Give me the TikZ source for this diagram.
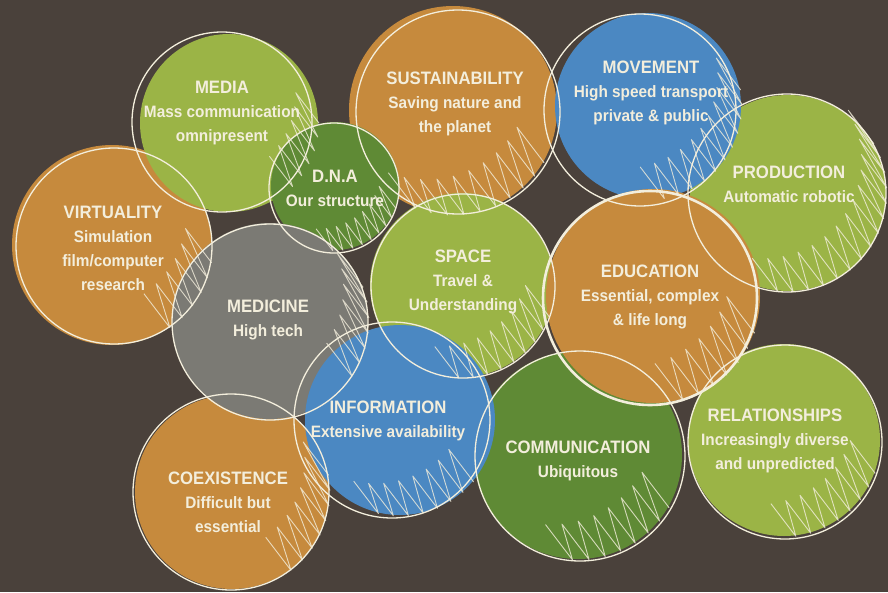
\documentclass[tikz,border=0pt]{standalone}
\usepackage{fontspec}
\setmainfont[FakeStretch=0.93]{Liberation Sans}
\usepackage{tikz}
\usetikzlibrary{positioning}

\definecolor{bgbrown}{HTML}{4A413B}
\definecolor{ochre}{HTML}{C68A3D}
\definecolor{lime}{HTML}{9BB446}
\definecolor{forest}{HTML}{5F8A35}
\definecolor{sky}{HTML}{4B88C2}
\definecolor{stone}{HTML}{7B7A74}
\definecolor{cream}{HTML}{F3EEDC}

\newcommand{\head}[1]{{\fontsize{18}{24}\selectfont #1}}
% zigzag scribble: centre x, centre y, radius, from angle, to angle
\newcommand{\hatchArc}[5]{%
  \pgfmathtruncatemacro\hnext{#4+9}%
  \draw[hatch, shift={(#1,#2)}] (#4:#3)
    \foreach \a in {#4,\hnext,...,#5} { -- (\a:1.01*#3) -- ++(-0.26*#3,-0.34*#3) };
}

\begin{document}
\begin{tikzpicture}[x=1pt, y=-1pt,
    disc/.style={circle, inner sep=0pt, minimum size={2*#1pt}},
    rim/.style={draw=cream, line width=1.3pt},
    hatch/.style={cream, line width=0.9pt, line join=round, opacity=0.8},
    blurb/.style={text=cream, align=center, font=\bfseries\fontsize{16.5}{24}\selectfont}
]

% Background
\fill[bgbrown] (0,0) rectangle (888,592);
\useasboundingbox (0,0) rectangle (888,592);

% Discs
\node[disc=104, fill=ochre] (sust) at (453,110) {};
\node[disc=100, fill=ochre] (virt) at (112,245) {};
\node[disc=89, fill=lime] (media) at (229,123) {};
\node[disc=64, fill=forest] (dna) at (335,186) {};
\node[disc=98, fill=lime] (prod) at (788,193) {};
\node[disc=93, fill=sky] (move) at (648,106) {};
\node[disc=92, fill=lime] (space) at (462,285) {};
\node[disc=104, fill=forest] (comm) at (578,455) {};
\node[disc=96, fill=lime] (rel) at (784,440) {};
\node[disc=107, fill=ochre] (edu) at (653,296) {};
\node[disc=97, fill=ochre] (coex) at (232,492) {};
\node[disc=98, fill=stone] (med) at (270,321) {};
\node[disc=95, fill=sky] (info) at (400,420) {};

% Sketched rims
\draw[rim] (458,112) circle (102);
\draw[rim] (114,246) circle (98);
\draw[rim] (222,122) circle (90);
\draw[rim] (334,188) circle (65);
\draw[rim] (787,193) circle (99);
\draw[rim] (640,110) circle (96);
\draw[rim] (463,286) circle (92);
\draw[rim] (580,456) circle (105);
\draw[rim] (785,442) circle (97);
\draw[rim, line width=2.6pt] (650,298) circle (107);
\draw[rim] (231,492) circle (98);
\draw[rim] (270,322) circle (98);
\draw[rim] (392,420) circle (98);

% Scribbles
\hatchArc{229}{123}{89}{0}{45}
\hatchArc{335}{186}{64}{20}{95}
\hatchArc{453}{110}{104}{30}{115}
\hatchArc{648}{106}{93}{-10}{80}
\hatchArc{788}{193}{98}{-30}{100}
\hatchArc{112}{245}{100}{10}{55}
\hatchArc{462}{285}{92}{20}{100}
\hatchArc{653}{296}{107}{20}{80}
\hatchArc{270}{321}{98}{-20}{40}
\hatchArc{400}{420}{95}{40}{105}
\hatchArc{232}{492}{97}{-10}{60}
\hatchArc{578}{455}{104}{30}{100}
\hatchArc{784}{440}{96}{20}{90}

% Labels
\node[blurb] (media-t) at (222,113) {\head{MEDIA}\\Mass communication\\omnipresent};
\node[blurb] (dna-t) at (335,188) {\head{D.N.A}\\Our structure};
\node[blurb] (sust-t) at (455,104) {\head{SUSTAINABILITY}\\Saving nature and\\the planet};
\node[blurb] (move-t) at (651,93) {\head{MOVEMENT}\\High speed transport\\private \& public};
\node[blurb] (prod-t) at (789,184) {\head{PRODUCTION}\\Automatic robotic};
\node[blurb] (virt-t) at (113,248) {\head{VIRTUALITY}\\Simulation\\film/computer\\research};
\node[blurb] (space-t) at (463,282) {\head{SPACE}\\Travel \&\\Understanding};
\node[blurb] (edu-t) at (650,297) {\head{EDUCATION}\\Essential, complex\\\& life long};
\node[blurb] (med-t) at (268,320) {\head{MEDICINE}\\High tech};
\node[blurb] (info-t) at (388,421) {\head{INFORMATION}\\Extensive availability};
\node[blurb] (coex-t) at (228,502) {\head{COEXISTENCE}\\Difficult but\\essential};
\node[blurb] (comm-t) at (578,461) {\head{COMMUNICATION}\\Ubiquitous};
\node[blurb] (rel-t) at (775,441) {\head{RELATIONSHIPS}\\Increasingly diverse\\and unpredicted};

\end{tikzpicture}
\end{document}
